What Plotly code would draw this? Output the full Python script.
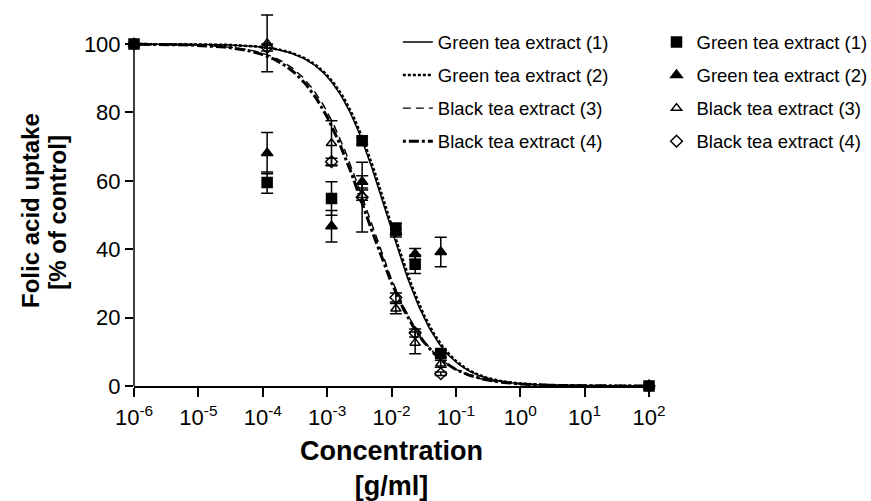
import numpy as np
import plotly.graph_objects as go

# Concentrations tested [g/ml]
conc = [1e-6, 1.17e-4, 1.17e-3, 3.5e-3, 1.17e-2, 2.33e-2, 5.83e-2, 100]

# Folic acid uptake [% of control], mean and error per extract
green1_mean = [100, 59.5, 54.8, 71.7, 46.1, 35.6, 9.5, 0]
green1_err = [0, 3.1, 4.9, 1.0, 1.5, 2.7, 1.0, 0]
green2_mean = [100, 68.1, 46.7, 59.7, 44.8, 38.6, 39.2, 0]
green2_err = [0, 6.0, 4.6, 1.8, 1.2, 1.6, 4.3, 0]
black3_mean = [100, 100.2, 71.0, 55.8, 22.6, 12.6, 6.5, 0]
black3_err = [0, 8.3, 6.6, 1.5, 1.5, 3.2, 1.0, 0]
black4_mean = [100, 99.0, 65.6, 55.2, 25.9, 15.5, 3.6, 0]
black4_err = [0, 1.0, 1.0, 10.2, 1.3, 1.2, 0.5, 0]

# Sigmoidal dose-response fit parameters (top=100, bottom=0)
series_names = ["Green tea extract (1)", "Green tea extract (2)",
                "Black tea extract (3)", "Black tea extract (4)"]
fit_log_ec50 = [-2.07, -2.05, -2.36, -2.39]
fit_hill = [1.05, 1.05, 0.95, 0.93]

x_tick_vals = [1e-6, 1e-5, 1e-4, 1e-3, 1e-2, 1e-1, 1e0, 1e1, 1e2]
x_tick_text = ["10<sup>-6</sup>", "10<sup>-5</sup>", "10<sup>-4</sup>", "10<sup>-3</sup>",
               "10<sup>-2</sup>", "10<sup>-1</sup>", "10<sup>0</sup>", "10<sup>1</sup>",
               "10<sup>2</sup>"]
y_tick_vals = [0, 20, 40, 60, 80, 100]
y_axis_span = [0, 100]

FONT = "Liberation Sans, Arial, sans-serif"

fig = go.Figure()

# fitted curves
line_styles = [
    dict(color="black", width=1.5, dash="solid"),
    dict(color="black", width=2.6, dash="3px,2px"),
    dict(color="black", width=1.4, dash="8px,5px"),
    dict(color="black", width=3.0, dash="3px,3px,10px,3px"),
]
log_x = np.linspace(-6, 2, 400)
for name, ec50, hill, style in zip(series_names, fit_log_ec50, fit_hill, line_styles):
    y_fit = 100.0 / (1.0 + 10 ** ((log_x - ec50) * hill))
    fig.add_trace(go.Scatter(
        x=10 ** log_x, y=y_fit, mode="lines", line=style, name=name,
        legend="legend", legendgroup="l" + name, cliponaxis=False,
    ))

# measured points with error bars (square drawn last, on top)
marker_specs = [
    (black4_mean, black4_err, "diamond-open", 9, 4),
    (black3_mean, black3_err, "triangle-up-open", 9, 3),
    (green2_mean, green2_err, "triangle-up", 10, 2),
    (green1_mean, green1_err, "square", 10, 1),
]
for mean, err, symbol, size, rank in marker_specs:
    fig.add_trace(go.Scatter(
        x=conc, y=mean, mode="markers", name=series_names[rank - 1],
        marker=dict(symbol=symbol, size=size, color="black",
                    line=dict(color="black", width=1.5)),
        error_y=dict(type="data", array=err, visible=True, color="black",
                     thickness=1.5, width=6),
        legend="legend2", legendrank=rank, legendgroup="m" + str(rank),
        cliponaxis=False,
    ))

legend_common = dict(
    font=dict(family=FONT, size=18.5, color="black"),
    bgcolor="rgba(0,0,0,0)", borderwidth=0,
    traceorder="grouped", tracegroupgap=6,
    yanchor="top",
)

# y axis line drawn only over the 0-100 span (room above for error bars)
fig.add_shape(type="line", xref="paper", yref="y",
              x0=0, x1=0, y0=y_axis_span[0], y1=y_axis_span[1],
              line=dict(color="black", width=1.5))

fig.add_annotation(text="<b>Concentration<br>[g/ml]</b>", xref="paper", yref="paper",
                   x=0.5, y=-0.2167, xanchor="center", yanchor="middle",
                   showarrow=False, font=dict(family=FONT, size=27))
fig.add_annotation(text="<b>Folic acid uptake</b>", xref="paper", yref="paper",
                   x=-0.2, y=0.457, xanchor="center", yanchor="middle", textangle=-90,
                   showarrow=False, font=dict(family=FONT, size=24))
fig.add_annotation(text="<b>[% of control]</b>", xref="paper", yref="paper",
                   x=-0.1476, y=0.455, xanchor="center", yanchor="middle", textangle=-90,
                   showarrow=False, font=dict(family=FONT, size=24))

fig.update_layout(
    width=871, height=501,
    margin=dict(l=134, r=222, t=3, b=115, autoexpand=False),
    paper_bgcolor="white", plot_bgcolor="white",
    font=dict(family=FONT, size=18, color="black"),
    legend=dict(x=0.5123, y=0.9465, xanchor="left", **legend_common),
    legend2=dict(x=1.434, y=0.9465, xanchor="right", **legend_common),
    xaxis=dict(
        type="log", range=[-6, 2], automargin=False,
        tickmode="array", tickvals=x_tick_vals, ticktext=x_tick_text,
        ticks="outside", ticklen=9, tickwidth=1.5, tickcolor="black",
        showline=True, linecolor="black", linewidth=1.5,
        showgrid=False, zeroline=False,
        tickfont=dict(family=FONT, size=22),
        ticklabelstandoff=2,
    ),
    yaxis=dict(
        range=[0, 112], automargin=False,
        tickmode="array", tickvals=y_tick_vals,
        ticks="outside", ticklen=8, tickwidth=1.5, tickcolor="black",
        showline=False,
        showgrid=False, zeroline=False,
        tickfont=dict(family=FONT, size=22),
    ),
)

fig.write_html("out.html")
